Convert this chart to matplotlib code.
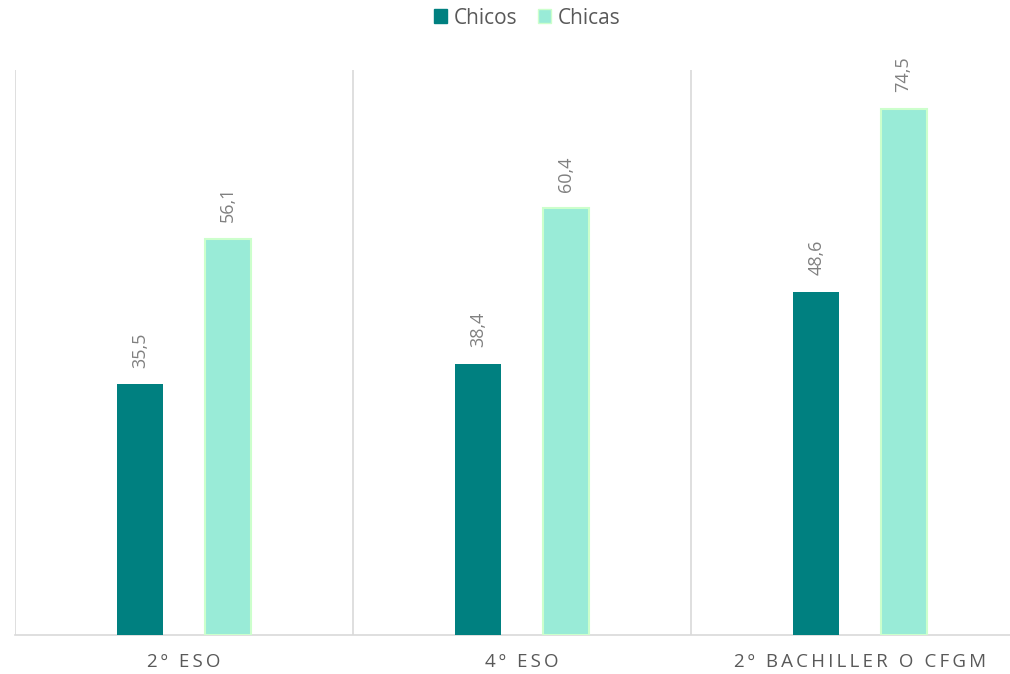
import numpy as np
import matplotlib
matplotlib.use("Agg")
import matplotlib.pyplot as plt
from matplotlib.patches import Patch

plt.rcParams['font.family'] = ['Open Sans', 'DejaVu Sans']

cursos = ["2º ESO", "4º ESO", "2º BACHILLER O CFGM"]
chicos = [35.5, 38.4, 48.6]
chicas = [56.1, 60.4, 74.5]

c_chicos = "#008080"
c_chicas = "#99ebd7"
edge_chicas = "#ccffcc"
grid_c = "#d9d9d9"
txt_c = "#595959"
lbl_c = "#808080"


def spaced(s):
    # wide tracking on the category labels
    return "\u2009".join(s)


fig = plt.figure(figsize=(10.1, 6.74), dpi=100, facecolor="white")
ax = fig.add_axes([15 / 1010, 39 / 674, 1014 / 1010, 565 / 674])

x = np.arange(len(cursos))
w = 0.136
off = 0.129
b1 = ax.bar(x - off, chicos, w, color=c_chicos, zorder=3)
b2 = ax.bar(x + off, chicas, w, color=c_chicas, edgecolor=edge_chicas,
            linewidth=1.5, zorder=3)

for bars, vals in [(b1, chicos), (b2, chicas)]:
    for r, v in zip(bars, vals):
        ax.annotate(f"{v:.1f}".replace(".", ","),
                    (r.get_x() + r.get_width() / 2, v),
                    xytext=(0, 12), textcoords="offset points",
                    rotation=90, ha="center", va="bottom",
                    fontsize=13, color=lbl_c)

ax.set_xlim(-0.5, 2.5)
ax.set_ylim(0, 80)
ax.set_yticks([])
ax.set_xticks(x)
ax.set_xticklabels([spaced(c) for c in cursos], fontsize=13.5, color=txt_c)
ax.tick_params(axis="x", length=0, pad=13)

# category separators
for xv in [-0.5, 0.5, 1.5, 2.5]:
    ax.axvline(xv, color=grid_c, lw=1.2, zorder=1)

for s in ["top", "right", "left"]:
    ax.spines[s].set_visible(False)
ax.spines["bottom"].set_color(grid_c)
ax.spines["bottom"].set_linewidth(1.2)

handles = [Patch(facecolor=c_chicos, edgecolor=c_chicos, label="Chicos"),
           Patch(facecolor=c_chicas, edgecolor=edge_chicas, label="Chicas")]
fig.legend(handles=handles, loc="center", bbox_to_anchor=(527 / 1010, 1 - 18 / 674),
           ncol=2, frameon=False, fontsize=15, handlelength=0.65, handleheight=0.65,
           handletextpad=0.3, columnspacing=1.0, labelcolor=txt_c)

fig.savefig("out.png", dpi=100, facecolor="white")
